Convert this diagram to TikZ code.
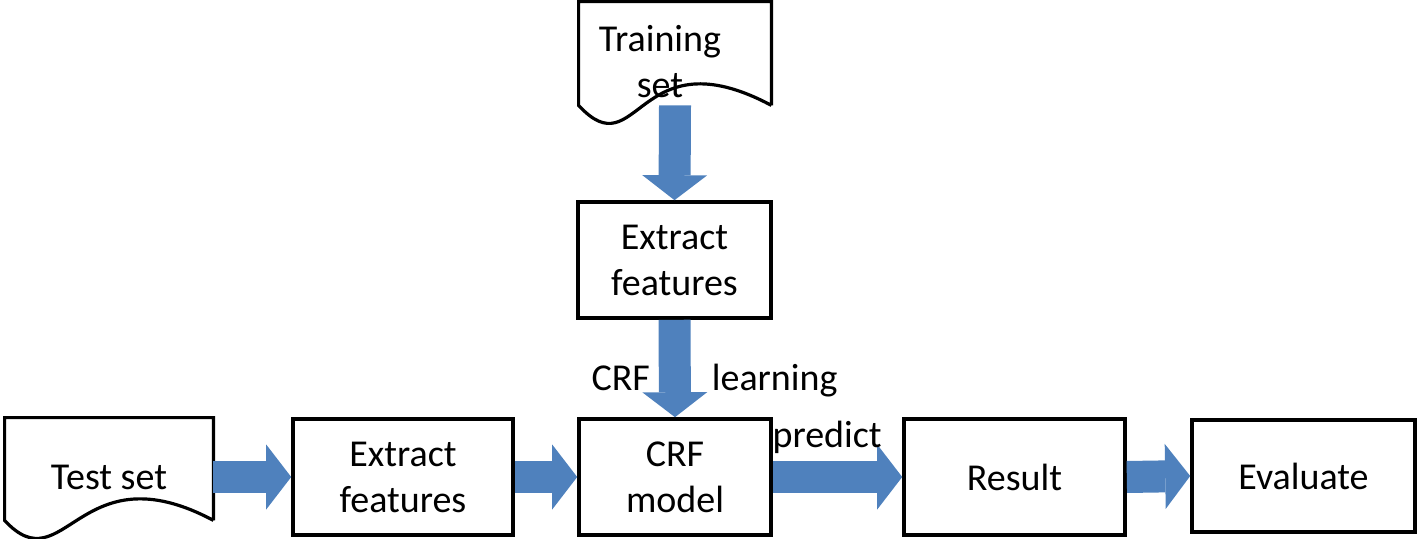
\documentclass[tikz,border=0pt]{standalone}
\usepackage{fontspec}
\setmainfont{Carlito}
\usetikzlibrary{arrows.meta}
\definecolor{arrowblue}{RGB}{79,129,189}
\tikzset{
  box/.style={draw, line width=1.8pt, minimum height=58pt, inner sep=0pt, align=center, font=\fontsize{19}{23}\selectfont},
  lbl/.style={inner sep=0pt, outer sep=0pt, text=black, align=center, font=\fontsize{19}{23}\selectfont},
  fat/.style={arrowblue, line width=16pt, -{Triangle[length=12.5pt,width=32.5pt,line width=0pt]}}
}
\begin{document}
\begin{tikzpicture}[x=0.5pt, y=-0.5pt]
\useasboundingbox (0,0) rectangle (1418,539);
% documents
\node (train) at (675,53.5) [minimum width=96pt, minimum height=51.5pt, label={[lbl, xshift=-7.5pt, yshift=-4pt]center:Training\\set}] {};
\node (test) at (109,469) [minimum width=104pt, minimum height=51pt, label={[lbl, yshift=-4pt]center:Test set}] {};
\foreach \d in {train, test}
  \draw[line width=1.6pt] (\d.south east) -- (\d.north east) -- (\d.north west) -- (\d.south west)
    .. controls +(60,65) and +(-135,-72) .. (\d.south east);
% boxes
\node[box, minimum width=96.5pt] (fe1) at (674.5,260) {Extract\\features};
\node[box, minimum width=96pt] (crf) at (675,477) {CRF\\model};
\node[box, minimum width=110pt] (fe2) at (403,477) {Extract\\features};
\node[box, minimum width=110.5pt] (result) at (1014.5,477) {Result};
\node[box, minimum width=111.5pt, minimum height=56pt] (eval) at (1303.5,476) {Evaluate};
% arrows
\draw[fat] (train.south) -- (fe1.north);
\draw[fat] (fe1.south) -- node[lbl, pos=0.73, anchor=base east, xshift=-12.5pt] {CRF}
  node[lbl, pos=0.73, anchor=base west, xshift=18.5pt] {learning} (crf.north);
\draw[fat] (test.east |- fe2.west) -- (fe2.west);
\draw[fat] (fe2.east) -- (crf.west);
\draw[fat] (crf.east) -- node[lbl, pos=0.42, anchor=base, yshift=15pt] {predict} (result.west);
\draw[fat] (result.east) -- (eval.west);
\end{tikzpicture}
\end{document}
